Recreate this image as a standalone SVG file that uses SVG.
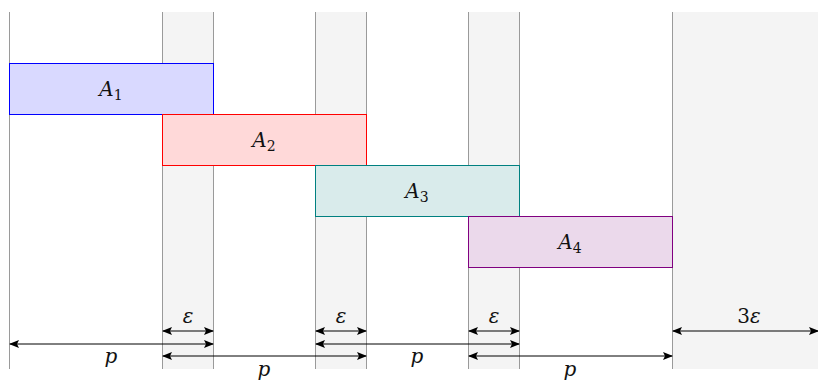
<svg xmlns="http://www.w3.org/2000/svg" width="818" height="383" viewBox="0 0 818 383">
<style>
.band{fill:#f4f4f4;stroke:none}
.vl{stroke:#9a9a9a;stroke-width:1;fill:none}
.m{font-family:'DejaVu Serif',serif;font-style:italic;font-size:20px;fill:#111;text-anchor:middle}
.n{font-style:normal}
.sub{font-style:normal;font-size:14px}
.arr{stroke:#000;stroke-width:1;fill:none;marker-start:url(#ah);marker-end:url(#ah)}
</style>
<defs>
<marker id="ah" viewBox="0 0 10 8" refX="9" refY="4" markerWidth="10" markerHeight="8" markerUnits="userSpaceOnUse" orient="auto-start-reverse">
<path d="M0,0 L10,4 L0,8 L2,4 Z" fill="#000"/>
</marker>
</defs>
<g id="background">
<rect class="band" x="162.5" y="12" width="51" height="357"/>
<rect class="band" x="315.5" y="12" width="51" height="357"/>
<rect class="band" x="468.5" y="12" width="51" height="357"/>
<rect class="band" x="672.5" y="12" width="146" height="357"/>
<line class="vl" x1="9.5" y1="12" x2="9.5" y2="369"/>
<line class="vl" x1="162.5" y1="12" x2="162.5" y2="369"/>
<line class="vl" x1="213.5" y1="12" x2="213.5" y2="369"/>
<line class="vl" x1="315.5" y1="12" x2="315.5" y2="369"/>
<line class="vl" x1="366.5" y1="12" x2="366.5" y2="369"/>
<line class="vl" x1="468.5" y1="12" x2="468.5" y2="369"/>
<line class="vl" x1="519.5" y1="12" x2="519.5" y2="369"/>
<line class="vl" x1="672.5" y1="12" x2="672.5" y2="369"/>
</g>
<g id="A1">
<rect x="9.5" y="63.5" width="204" height="51" fill="#d9d9ff" stroke="#0000ff" stroke-width="1"/>
<text x="111" y="96" class="m">A<tspan class="sub" dy="4">1</tspan></text>
</g>
<g id="A2">
<rect x="162.5" y="114.5" width="204" height="51" fill="#ffd9d9" stroke="#ff0000" stroke-width="1"/>
<text x="264" y="147" class="m">A<tspan class="sub" dy="4">2</tspan></text>
</g>
<g id="A3">
<rect x="315.5" y="165.5" width="204" height="51" fill="#d9ebeb" stroke="#008080" stroke-width="1"/>
<text x="417" y="198" class="m">A<tspan class="sub" dy="4">3</tspan></text>
</g>
<g id="A4">
<rect x="468.5" y="216.5" width="204" height="51" fill="#ebd9eb" stroke="#800080" stroke-width="1"/>
<text x="570" y="249" class="m">A<tspan class="sub" dy="4">4</tspan></text>
</g>
<g id="connectors">
<line class="arr" x1="163" y1="331" x2="213" y2="331"/>
<line class="arr" x1="316" y1="331" x2="366" y2="331"/>
<line class="arr" x1="469" y1="331" x2="519" y2="331"/>
<line class="arr" x1="673" y1="331" x2="818" y2="331"/>
<line class="arr" x1="10" y1="344" x2="213" y2="344"/>
<line class="arr" x1="316" y1="344" x2="519" y2="344"/>
<line class="arr" x1="163" y1="356" x2="366" y2="356"/>
<line class="arr" x1="469" y1="356" x2="672" y2="356"/>
</g>
<g id="labels">
<text x="188" y="323" class="m">ε</text>
<text x="341" y="323" class="m">ε</text>
<text x="494" y="323" class="m">ε</text>
<text x="749" y="323" class="m"><tspan class="n">3</tspan>ε</text>
<text x="111" y="363" class="m">p</text>
<text x="264" y="376" class="m">p</text>
<text x="417" y="363" class="m">p</text>
<text x="570" y="376" class="m">p</text>
</g>
</svg>
